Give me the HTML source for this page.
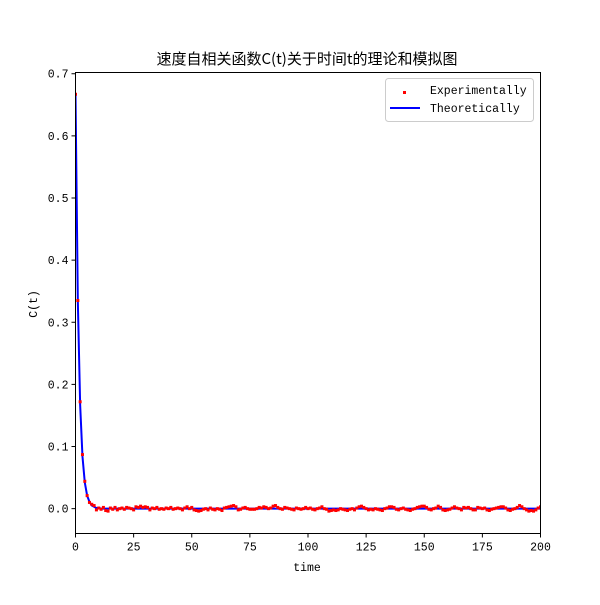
<!DOCTYPE html>
<html><head><meta charset="utf-8"><style>
body{margin:0;background:#fff}
svg text{font-family:"Liberation Mono","Noto Sans CJK SC",monospace;font-size:11.5px;fill:#000}
</style></head><body>
<svg id="chart" width="600" height="600" xmlns="http://www.w3.org/2000/svg">
<defs><clipPath id="clip"><rect x="75.5" y="72.5" width="465" height="461"/></clipPath></defs>
<rect width="600" height="600" fill="#fff"/>
<text x="307" y="64" text-anchor="middle" style="font-family:'Noto Sans CJK SC',sans-serif;font-size:15px">速度自相关函数C(t)关于时间t的理论和模拟图</text>
<g id="plot"></g>
<text x="307" y="571" text-anchor="middle">time</text>
<text transform="translate(37,304) rotate(-90)" text-anchor="middle">C(t)</text>
<g>
<rect x="385.5" y="78.5" width="148" height="43" rx="3" fill="#fff" stroke="#ccc"/>
<rect x="403" y="91" width="3" height="3" fill="red"/>
<text x="430" y="94">Experimentally</text>
<line x1="390" y1="108" x2="420" y2="108" stroke="blue" stroke-width="2"/>
<text x="430" y="112">Theoretically</text>
</g>
</svg>
<script>
const xTicks=[0,25,50,75,100,125,150,175,200];
const yTicks=[0.0,0.1,0.2,0.3,0.4,0.5,0.6,0.7];
const expHead=[0.667,0.335,0.172,0.087,0.044,0.021,0.010,0.007,0.005,-0.002,0.001,-0.001,0.002,-0.003,-0.004,0.001,-0.001,0.002,-0.002,0.000];
const expTail=[0.001,-0.001,0.002,0.001,0.000,-0.002,0.003,0.002,0.004,0.002,0.003,0.002,-0.002,0.001,0.000,0.002,-0.001,0.000,-0.001,0.001,
0.000,0.002,-0.001,0.000,0.001,0.000,-0.002,0.001,0.003,0.000,0.002,-0.002,-0.003,-0.004,-0.003,-0.001,0.000,-0.002,0.001,-0.001,
-0.002,0.000,-0.001,-0.003,0.001,0.002,0.003,0.004,0.005,0.003,-0.002,-0.001,0.001,0.002,0.000,-0.001,-0.001,-0.001,0.000,0.002,
0.001,0.003,0.002,0.000,0.001,0.004,0.005,0.002,0.000,-0.001,0.002,0.001,0.000,-0.001,-0.002,0.001,0.000,-0.001,0.000,0.002,
0.000,0.001,-0.001,-0.002,0.000,0.001,0.003,0.000,-0.001,-0.004,-0.003,-0.002,-0.003,-0.002,0.000,-0.001,-0.002,-0.003,-0.001,0.000,
-0.002,0.001,0.003,0.004,0.002,0.000,-0.002,-0.001,-0.002,0.000,-0.001,-0.002,-0.003,0.000,0.001,0.003,0.003,0.002,-0.001,-0.002,
0.000,0.001,-0.001,-0.002,-0.003,-0.001,0.000,0.002,0.003,0.004,0.004,0.002,-0.001,-0.002,0.000,0.001,0.004,0.002,-0.002,-0.003,
-0.002,-0.001,0.001,0.003,0.001,0.000,-0.002,0.002,0.001,0.002,0.000,-0.002,-0.002,0.002,0.001,0.000,0.001,-0.002,-0.003,-0.001,0.000,0.001,
0.002,0.003,0.003,0.001,-0.002,-0.003,-0.001,0.000,0.002,0.005,0.003,0.000,-0.002,-0.004,-0.003,-0.004,-0.002,0.001,0.003];
const expValues=expHead.concat(expTail);
const theoryValues=[0.667,0.334,0.167,0.084,0.042,0.021,0.011,0.005,0.003,0.001,0.001,0,0,0,0,0,0,0,0,0,0,0,0,0,0,0];
const X0=75.5,X1=540.5,Y0=533.5,Y1=72.5,XMIN=0,XMAX=200,YMIN=-0.04,YMAX=0.702;
const sx=v=>X0+(v-XMIN)/(XMAX-XMIN)*(X1-X0);
const sy=v=>Y0-(v-YMIN)/(YMAX-YMIN)*(Y0-Y1);
const NS='http://www.w3.org/2000/svg';
const plot=document.getElementById('plot');
function mk(t,a){const e=document.createElementNS(NS,t);for(const k in a)e.setAttribute(k,a[k]);return e;}
const marks=mk('g',{'clip-path':'url(#clip)'});


plot.appendChild(marks);
let d='';
const lastT=XMAX;
for(let i=0;i<=lastT;i++){const v=i<theoryValues.length?theoryValues[i]:0;d+=(i?'L':'M')+sx(i).toFixed(2)+','+sy(v).toFixed(2);}
const line=mk('path',{d:d,fill:'none',stroke:'blue','stroke-width':2});


marks.appendChild(line);
expValues.forEach((v,i)=>{
const r=mk('rect',{x:sx(i)-1.5,y:sy(v)-1.5,width:3,height:3,fill:'red'});


marks.appendChild(r);
});
const frame=mk('rect',{x:X0,y:Y1,width:X1-X0,height:Y0-Y1,fill:'none',stroke:'#000','stroke-width':1});


plot.appendChild(frame);
xTicks.forEach(t=>{
const l=mk('line',{x1:sx(t),x2:sx(t),y1:Y0,y2:Y0+4,stroke:'#000'});


plot.appendChild(l);
const tx=mk('text',{x:sx(t),y:Y0+17,'text-anchor':'middle'});tx.textContent=t;


plot.appendChild(tx);
});
yTicks.forEach(t=>{
const l=mk('line',{x1:X0-4,x2:X0,y1:sy(t),y2:sy(t),stroke:'#000'});


plot.appendChild(l);
const tx=mk('text',{x:X0-7,y:sy(t)+4,'text-anchor':'end'});tx.textContent=t.toFixed(1);


plot.appendChild(tx);
});
</script>
</body></html>
